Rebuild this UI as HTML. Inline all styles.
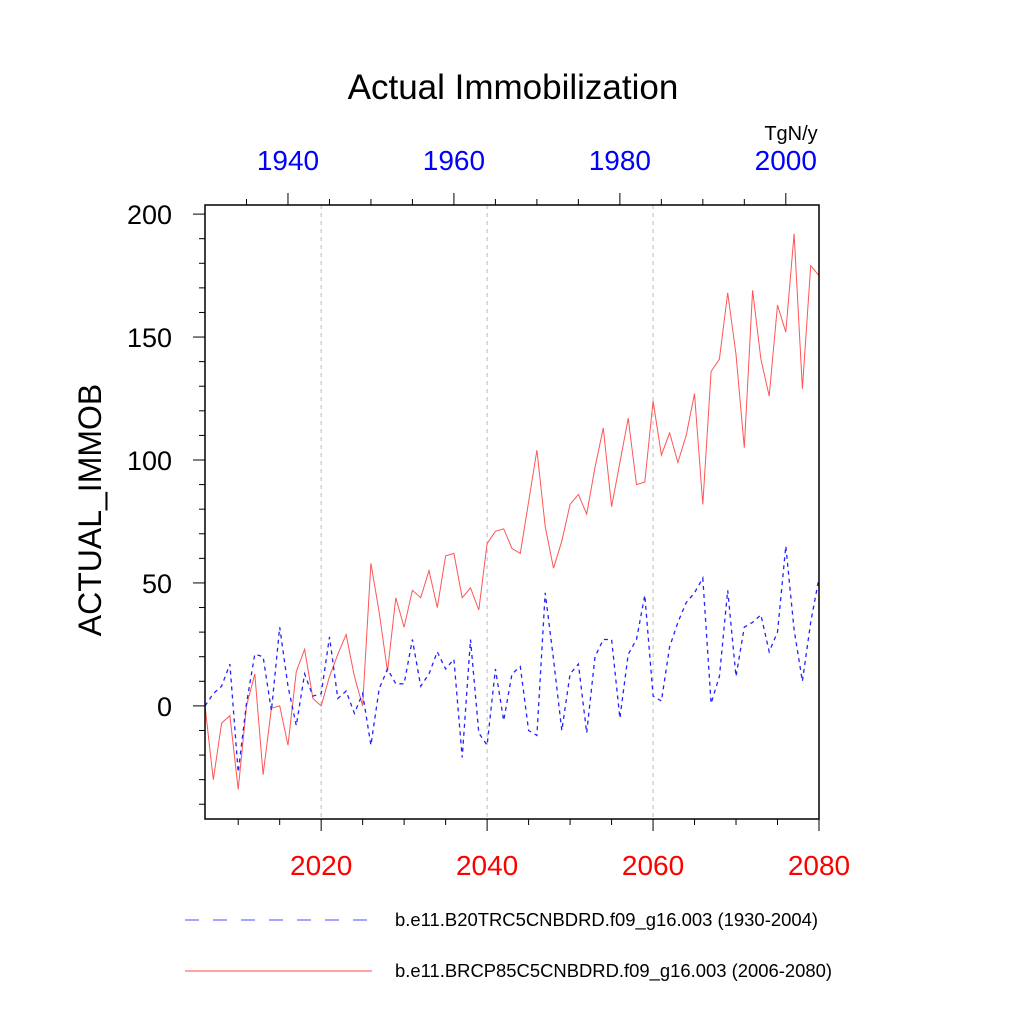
<!DOCTYPE html>
<html><head><meta charset="utf-8"><style>
html,body{margin:0;padding:0;background:#fff;}
svg{display:block;font-family:"Liberation Sans",sans-serif;}
</style></head><body>
<svg id="chart" width="1024" height="1024" viewBox="0 0 1024 1024" xmlns="http://www.w3.org/2000/svg">
<text x="513" y="99" font-size="35" text-anchor="middle">Actual Immobilization</text>
<text x="791" y="140" font-size="20" text-anchor="middle">TgN/y</text>
<text transform="translate(101,510) rotate(-90)" font-size="32" text-anchor="middle">ACTUAL_IMMOB</text>
<g id="grid"></g>
<g id="axes"></g>
<g id="series"></g>
<rect x="205" y="205" width="614" height="614" fill="none" stroke="#000" stroke-width="1.5"/>
<g>
<line x1="185" y1="920" x2="372" y2="920" stroke="#00f" stroke-width="1" stroke-dasharray="14,14" opacity="0.7"/>
<text x="395" y="926" font-size="18.5" textLength="423" lengthAdjust="spacingAndGlyphs">b.e11.B20TRC5CNBDRD.f09_g16.003 (1930-2004)</text>
<line x1="185" y1="971" x2="372" y2="971" stroke="#f00" stroke-width="1" opacity="0.7"/>
<text x="395" y="977" font-size="18.5" textLength="437" lengthAdjust="spacingAndGlyphs">b.e11.BRCP85C5CNBDRD.f09_g16.003 (2006-2080)</text>
</g>
</svg>
<script>
const futureYears = Array.from({length:75},(_, i)=>2006+i);
const rcpValues = [0,-30,-7,-4,-34,0,13,-28,-1,0,-16,14,23,3,0,12,21,29,12,0,58,38,14,44,32,47,44,55,40,61,62,44,48,39,66,71,72,64,62,83,104,73,56,67,82,86,78,97,113,81,99,117,90,91,124,102,111,99,110,127,82,136,141,168,143,105,169,141,126,163,152,192,129,179,175];
const histValues = [0,5,8,17,-27,1,21,20,-2,32,8,-8,13,4,5,28,3,6,-3,5,-16,7,15,9,9,27,8,13,22,15,19,-21,27,-11,-16,15,-6,13,16,-10,-12,46,19,-10,13,17,-11,20,27,27,-5,21,27,45,4,2,24,34,42,46,52,1,12,47,12,32,34,37,22,30,65,31,10,34,52];
const yTicks = [0,50,100,150,200];
const bottomTicks = [2020,2040,2060,2080];
const topTicks = [1940,1960,1980,2000];

const NS="http://www.w3.org/2000/svg";
const X0=205,X1=819,Y0=205,Y1=819;
const yMin=-46, yMax=203.7;
const xB=v=>X0+(v-2006)/(2080-2006)*(X1-X0);
const xT=v=>X0+(v-1930)/(2004-1930)*(X1-X0);
const yS=v=>Y1-(v-yMin)/(yMax-yMin)*(Y1-Y0);
function mk(tag,attrs,parent){const e=document.createElementNS(NS,tag);for(const k in attrs)e.setAttribute(k,attrs[k]);parent.appendChild(e);return e;}
const axes=document.getElementById('axes'),grid=document.getElementById('grid'),series=document.getElementById('series');

for(let v=-40;v<=200;v+=10){
  const major=v%50===0;
  const t=mk('line',{x1:X0,x2:X0-(major?12:6),y1:yS(v),y2:yS(v),stroke:'#000','stroke-width':1},axes);
  
  
}
yTicks.forEach(v=>{
  const t=mk('text',{x:172,y:yS(v)+10,'font-size':27,'text-anchor':'end'},axes);
  t.textContent=v;
  
  
});
for(let v=2010;v<=2080;v+=5){
  const major=v%20===0;
  const t=mk('line',{x1:xB(v),x2:xB(v),y1:Y1,y2:Y1+(major?12:6),stroke:'#000','stroke-width':1},axes);
  
  
}
bottomTicks.forEach(v=>{
  const t=mk('text',{x:xB(v),y:875,'font-size':28,'text-anchor':'middle',fill:'#f00'},axes);
  t.textContent=v;
  
  
  if(v<2080){
    const g=mk('line',{x1:xB(v),x2:xB(v),y1:Y0,y2:Y1,stroke:'#bbb','stroke-width':1,'stroke-dasharray':'4,4'},grid);
    
    
  }
});
for(let v=1935;v<=2004;v+=5){
  const major=v%20===0;
  const t=mk('line',{x1:xT(v),x2:xT(v),y1:Y0,y2:Y0-(major?12:6),stroke:'#000','stroke-width':1},axes);
  
  
}
topTicks.forEach(v=>{
  const t=mk('text',{x:xT(v),y:170,'font-size':28,'text-anchor':'middle',fill:'#00f'},axes);
  t.textContent=v;
  
  
});
const rp=mk('polyline',{points:rcpValues.map((v,i)=>xB(futureYears[i]).toFixed(1)+','+yS(v).toFixed(1)).join(' '),fill:'none',stroke:'#f55','stroke-width':1},series);


const hp=mk('polyline',{points:histValues.map((v,i)=>xT(1930+i).toFixed(1)+','+yS(v).toFixed(1)).join(' '),fill:'none',stroke:'#22f','stroke-width':1.3,'stroke-dasharray':'4,4'},series);


</script>
</body></html>
